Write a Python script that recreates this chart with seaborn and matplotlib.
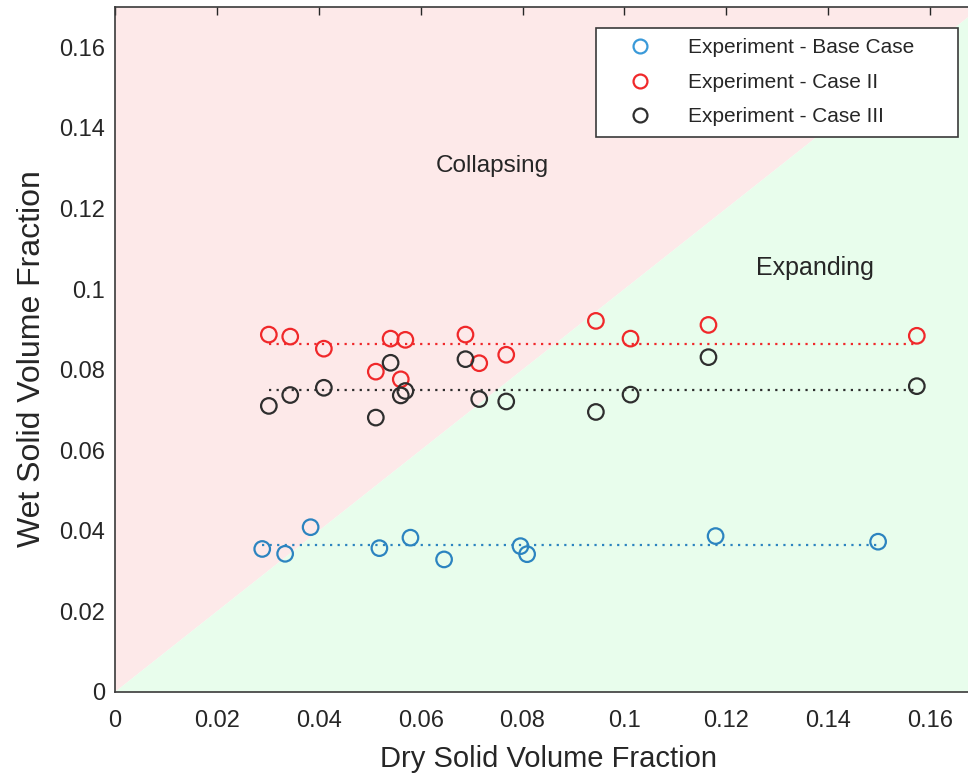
import numpy as np
import pandas as pd
import matplotlib
matplotlib.use("Agg")
import matplotlib.pyplot as plt
import seaborn as sns
from matplotlib.lines import Line2D

sns.set_theme(style="white")
plt.rcParams["font.family"] = ["Liberation Sans", "DejaVu Sans"]

# Base case measurements
base_dry = [0.0289, 0.0334, 0.0384, 0.0519, 0.0580, 0.0646, 0.0796, 0.0809, 0.1179, 0.1498]
base_wet = [0.0355, 0.0343, 0.0409, 0.0357, 0.0383, 0.0329, 0.0362, 0.0342, 0.0387, 0.0373]

# Cases II and III share the same dry fractions
case_dry = [0.0302, 0.0344, 0.0410, 0.0512, 0.0541, 0.0561, 0.0570,
            0.0688, 0.0715, 0.0768, 0.0944, 0.1012, 0.1165, 0.1574]
case2_wet = [0.0887, 0.0882, 0.0852, 0.0795, 0.0877, 0.0776, 0.0874,
             0.0887, 0.0816, 0.0837, 0.0921, 0.0877, 0.0911, 0.0884]
case3_wet = [0.0710, 0.0737, 0.0755, 0.0681, 0.0817, 0.0736, 0.0747,
             0.0826, 0.0727, 0.0721, 0.0695, 0.0738, 0.0831, 0.0759]

series_labels = ["Experiment - Base Case", "Experiment - Case II", "Experiment - Case III"]
series_colors = ["#2c84c0", "#f0282a", "#2e2e2e"]
legend_colors = ["#3a9ad9", "#f0282a", "#2e2e2e"]

x_ticks = [0, 0.02, 0.04, 0.06, 0.08, 0.1, 0.12, 0.14, 0.16]
x_ticklabels = ["0", "0.02", "0.04", "0.06", "0.08", "0.1", "0.12", "0.14", "0.16"]
lim = 0.17

frames = [
    pd.DataFrame({"dry": base_dry, "wet": base_wet, "series": series_labels[0]}),
    pd.DataFrame({"dry": case_dry, "wet": case2_wet, "series": series_labels[1]}),
    pd.DataFrame({"dry": case_dry, "wet": case3_wet, "series": series_labels[2]}),
]

fig = plt.figure(figsize=(9.68, 7.78), dpi=100)
ax = fig.add_axes([115 / 968, 86 / 778, 866 / 968, 685 / 778])

# collapsing / expanding regions split by the line wet = dry
ax.fill([0, 0, lim], [0, lim, lim], color="#fde9e9", lw=0, zorder=0)
ax.fill([0, lim, lim], [0, 0, lim], color="#e8fdec", lw=0, zorder=0)

for df, c in zip(frames, series_colors):
    mean = df["wet"].mean()
    line = pd.DataFrame({"dry": [df["dry"].min(), df["dry"].max()], "wet": [mean, mean]})
    sns.lineplot(data=line, x="dry", y="wet", ax=ax, color=c, lw=1.6,
                 dashes=False, zorder=2)
    ax.lines[-1].set_dashes((1, 2.4))
    sns.scatterplot(data=df, x="dry", y="wet", ax=ax, marker="o", s=125,
                    fc="none", ec=c, linewidth=1.6, zorder=3)

ax.text(0.074, 0.1305, "Collapsing", ha="center", va="center", fontsize=17.5, color="#262626")
ax.text(0.1374, 0.1052, "Expanding", ha="center", va="center", fontsize=18, color="#262626")

ax.set_xlim(0, lim)
ax.set_ylim(0, lim)
ax.set_xticks(x_ticks)
ax.set_xticklabels(x_ticklabels)
ax.set_yticks(x_ticks)
ax.set_yticklabels(x_ticklabels)
ax.tick_params(direction="in", length=6, width=1, colors="#262626",
               labelsize=17, top=True, right=True, labelcolor="#262626")
ax.tick_params(axis="x", pad=13)
ax.tick_params(axis="y", pad=7)
ax.set_xlabel("Dry Solid Volume Fraction", fontsize=21, color="#262626", labelpad=9)
ax.set_ylabel("Wet Solid Volume Fraction", fontsize=23, color="#262626")
ax.yaxis.set_label_coords(-0.079, 0.487)
for sp in ax.spines.values():
    sp.set_color("#3a3a3a")
    sp.set_linewidth(1.2)

handles = [Line2D([], [], ls="none", marker="o", ms=10, mfc="none", mec=c, mew=1.6)
           for c in legend_colors]
leg = ax.legend(handles, series_labels, loc="upper left",
                bbox_to_anchor=(596 / 968, 750 / 778, 362 / 968, 0.0),
                bbox_transform=fig.transFigure, mode="expand", fontsize=15,
                frameon=True, fancybox=False, edgecolor="#3a3a3a", framealpha=1,
                handletextpad=0.71, handlelength=3.21, borderpad=0.5,
                labelspacing=0.74, borderaxespad=0)
leg.get_frame().set_linewidth(1.2)

fig.savefig("out.png", dpi=100)
